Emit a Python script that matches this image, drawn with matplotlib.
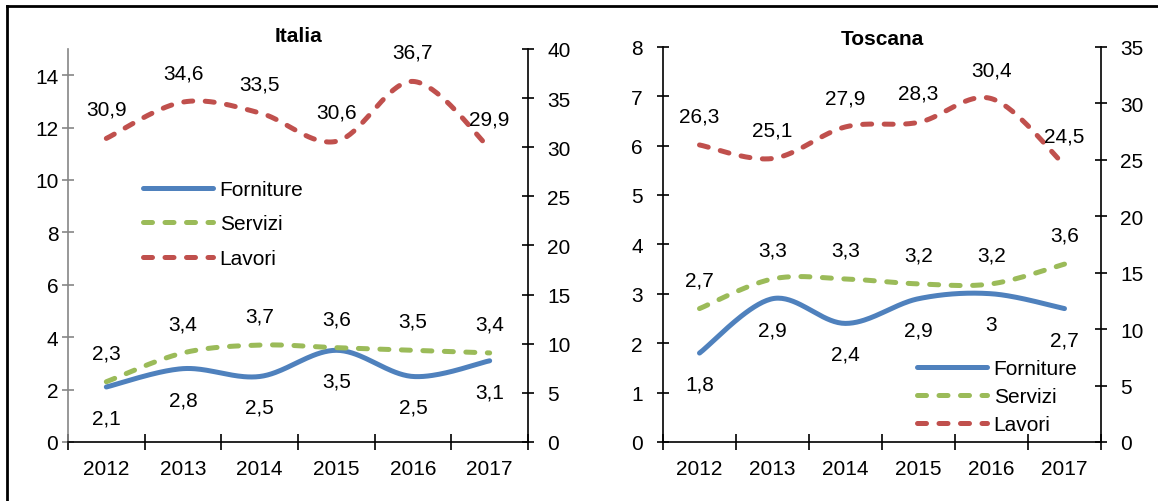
import numpy as np
import matplotlib.pyplot as plt
from matplotlib.lines import Line2D
from matplotlib import font_manager

years = ["2012", "2013", "2014", "2015", "2016", "2017"]

italia_forniture = [2.1, 2.8, 2.5, 3.5, 2.5, 3.1]
italia_servizi = [2.3, 3.4, 3.7, 3.6, 3.5, 3.4]
italia_lavori = [30.9, 34.6, 33.5, 30.6, 36.7, 29.9]

toscana_forniture = [1.8, 2.9, 2.4, 2.9, 3.0, 2.7]
toscana_servizi = [2.7, 3.3, 3.3, 3.2, 3.2, 3.6]
toscana_lavori = [26.3, 25.1, 27.9, 28.3, 30.4, 24.5]

BLUE = "#4F81BD"
GREEN = "#9BBB59"
RED = "#C0504D"

W, H = 1158, 502

available = {f.name for f in font_manager.fontManager.ttflist}
family = "Liberation Sans Narrow" if "Liberation Sans Narrow" in available else "Liberation Sans"
plt.rcParams["font.family"] = [family, "DejaVu Sans"]
FS = 15


def smooth(y, n=40):
    # Excel-style smoothed line (Catmull-Rom bezier through the points)
    x = np.arange(len(y), dtype=float)
    pts = np.column_stack([x, np.asarray(y, dtype=float)])
    p = np.vstack([pts[0], pts, pts[-1]])
    out = []
    t = np.linspace(0, 1, n)[:, None]
    for i in range(1, len(p) - 2):
        p0, p1, p2, p3 = p[i - 1], p[i], p[i + 1], p[i + 2]
        c1 = p1 + (p2 - p0) / 6.0
        c2 = p2 - (p3 - p1) / 6.0
        seg = (1 - t) ** 3 * p1 + 3 * (1 - t) ** 2 * t * c1 + 3 * (1 - t) * t ** 2 * c2 + t ** 3 * p2
        out.append(seg if i == 1 else seg[1:])
    seg = np.vstack(out)
    return seg[:, 0], seg[:, 1]


def fmt(v):
    s = ("%.1f" % v).replace(".", ",")
    if s.endswith(",0"):
        s = s[:-2]
    return s


def draw_panel(rect, title, title_y, forn, serv, lav, lmax, lstep, rmax, rstep,
               left_color, leg_anchor, leg_spacing, lpad, rpad):
    ax = fig.add_axes(rect)
    ax2 = ax.twinx()
    x = np.arange(len(years))

    lw = 5 * 0.72
    dash = (1.8, 2.5)
    sx, sy = smooth(forn)
    ax.plot(sx, sy, color=BLUE, lw=lw, solid_capstyle="round", label="Forniture")
    sx, sy = smooth(serv)
    ax.plot(sx, sy, color=GREEN, lw=lw, dashes=dash, dash_capstyle="round", label="Servizi")
    sx, sy = smooth(lav)
    ax2.plot(sx, sy, color=RED, lw=lw, dashes=dash, dash_capstyle="round", label="Lavori")

    for xi, v in zip(x, forn):
        ax.annotate(fmt(v), (xi, v), xytext=(0, -31), textcoords="offset pixels",
                    ha="center", va="center", fontsize=FS)
    for xi, v in zip(x, serv):
        ax.annotate(fmt(v), (xi, v), xytext=(0, 29), textcoords="offset pixels",
                    ha="center", va="center", fontsize=FS)
    for xi, v in zip(x, lav):
        ax2.annotate(fmt(v), (xi, v), xytext=(0, 29), textcoords="offset pixels",
                     ha="center", va="center", fontsize=FS)

    ax.set_xlim(-0.5, len(years) - 0.5)
    ax.set_ylim(0, lmax)
    ax2.set_ylim(0, rmax)
    ax.set_yticks(np.arange(0, lmax + 0.01, lstep))
    ax2.set_yticks(np.arange(0, rmax + 0.01, rstep))
    ax.set_xticks(np.arange(-0.5, len(years), 1.0))
    ax.set_xticklabels([])
    ax.set_xticks(x, minor=True)
    ax.set_xticklabels(years, minor=True)

    for a in (ax, ax2):
        a.spines["top"].set_visible(False)
    ax.spines["right"].set_visible(False)
    ax2.spines["left"].set_visible(False)
    ax2.spines["bottom"].set_visible(False)
    ax.spines["left"].set_color(left_color)
    ax.spines["left"].set_linewidth(1.2)
    ax.spines["bottom"].set_linewidth(1.2)
    ax2.spines["right"].set_linewidth(1.2)

    ax.tick_params(axis="y", direction="inout", length=9, width=1.2, color=left_color,
                   labelsize=FS, pad=lpad)
    ax2.tick_params(axis="y", direction="inout", length=9, width=1.2, labelsize=FS, pad=rpad)
    ax.tick_params(axis="x", which="major", direction="inout", length=12, width=1.2)
    ax.tick_params(axis="x", which="minor", length=0, labelsize=FS, pad=12)

    ax.set_title(title, fontsize=FS, fontweight="bold", y=title_y)

    h1, l1 = ax.get_legend_handles_labels()
    h2, l2 = ax2.get_legend_handles_labels()
    leg = ax.legend(h1 + h2, l1 + l2, loc="upper left", bbox_to_anchor=leg_anchor,
                    frameon=False, fontsize=FS, handlelength=3.4, handletextpad=0.3,
                    labelspacing=leg_spacing, borderpad=0, borderaxespad=0)
    leg.set_zorder(5)
    return ax, ax2


fig = plt.figure(figsize=(W / 100, H / 100), dpi=100)


def frect(x0, x1, ytop, ybot):
    return [x0 / W, 1 - ybot / H, (x1 - x0) / W, (ybot - ytop) / H]


draw_panel(frect(68, 528, 50, 443), "Italia", 1.0,
           italia_forniture, italia_servizi, italia_lavori,
           15, 2, 40, 5, "#868686", (0.162, 0.667), 0.75, 2.5, 9.5)
draw_panel(frect(663, 1101, 47.7, 443), "Toscana", 0.987,
           toscana_forniture, toscana_servizi, toscana_lavori,
           8, 1, 35, 5, "black", (0.579, 0.21), 0.44, 10, 9.5)

# outer frame (top and left edges visible)
fig.add_artist(Line2D([7 / W, 1.0], [1 - 7 / H, 1 - 7 / H], transform=fig.transFigure,
                      color="black", lw=2))
fig.add_artist(Line2D([7 / W, 7 / W], [0.0, 1 - 7 / H], transform=fig.transFigure,
                      color="black", lw=2))

fig.savefig("out.png", dpi=100)
